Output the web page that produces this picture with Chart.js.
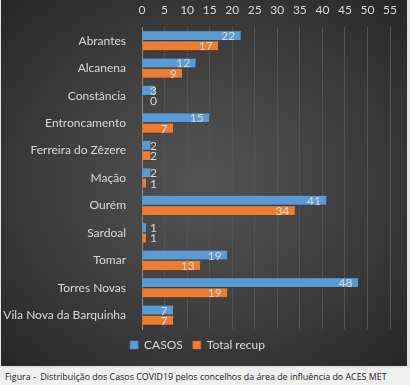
<!DOCTYPE html>
<html>
<head>
<meta charset="utf-8">
<script src="https://cdn.jsdelivr.net/npm/chart.js@4"></script>
<style>
  html, body { margin:0; padding:0; background:#e4e4e4; width:410px; height:385px; overflow:hidden; }
  #panel { position:absolute; left:1px; top:0; width:406px; height:366px;
    background: radial-gradient(ellipse at 50% 50%, #545454 0%, #3d3d3d 55%, #262626 100%); }
  #caption { position:absolute; left:0; top:368px; width:410px; height:17px; background:#f0f0f0;
    font: 8.9px "Open Sans", sans-serif; color:#222; line-height:17px; padding-left:5px; box-sizing:border-box; white-space:nowrap; }
</style>
</head>
<body>
<div id="panel"><canvas id="c" width="406" height="366"></canvas></div>
<div id="caption">Figura -&nbsp; Distribuição dos Casos COVID19 pelos concelhos da área de influência do ACES MET</div>
<script>
const concelhos = ["Abrantes","Alcanena","Constância","Entroncamento","Ferreira do Zêzere","Mação","Ourém","Sardoal","Tomar","Torres Novas","Vila Nova da Barquinha"];
const casos = [22,12,3,15,2,2,41,1,19,48,7];
const totalRecup = [17,9,0,7,2,1,34,1,13,19,7];
const xTicksMax = 55;

const FONT = "Lato, 'Open Sans', sans-serif";

// bar drop shadow, like the office chart style
const shadowPlugin = {
  id: "shadow",
  beforeDatasetsDraw(chart){
    const ctx = chart.ctx;
    ctx.save();
    ctx.shadowColor = "rgba(0,0,0,0.6)";
    ctx.shadowBlur = 3;
    ctx.shadowOffsetX = 1.5;
    ctx.shadowOffsetY = 1.5;
  },
  afterDatasetsDraw(chart){
    chart.ctx.restore();
  }
};

// value labels at inside end, pushed out when the bar is too short
const valueLabels = {
  id: "valueLabels",
  afterDatasetsDraw(chart){
    const ctx = chart.ctx;
    const base = chart.scales.x.getPixelForValue(0);
    ctx.save();
    ctx.font = "12px " + FONT;
    ctx.textBaseline = "middle";
    ctx.textAlign = "center";
    chart.data.datasets.forEach((ds, i) => {
      chart.getDatasetMeta(i).data.forEach((bar, j) => {
        const txt = String(ds.data[j]);
        const w = ctx.measureText(txt).width;
        const x = Math.max(base + 8 + w/2, bar.x - 6 - w/2);
        ctx.fillStyle = "#d9d9d9";
        ctx.fillText(txt, x, bar.y + 0.5);
      });
    });
    ctx.restore();
  }
};

new Chart(document.getElementById("c"), {
  type: "bar",
  data: {
    labels: concelhos,
    datasets: [
      { label: "CASOS", data: casos, backgroundColor: "#5b9bd5", borderColor: "#4a8ac4", borderWidth: 0.5,
        categoryPercentage: 0.75, barPercentage: 0.95 },
      { label: "Total recup", data: totalRecup, backgroundColor: "#ed7d31", borderColor: "#d56a22", borderWidth: 0.5,
        categoryPercentage: 0.75, barPercentage: 0.95 }
    ]
  },
  options: {
    indexAxis: "y",
    responsive: false,
    animation: false,
    layout: { padding: { left: 2, right: 15, top: 2, bottom: 5 } },
    plugins: {
      tooltip: { enabled: false },
      legend: {
        position: "bottom",
        labels: { color: "#d9d9d9", font: { size: 12, family: FONT }, boxWidth: 8, boxHeight: 8, padding: 10 }
      }
    },
    scales: {
      x: {
        position: "top",
        min: 0, max: xTicksMax,
        ticks: { stepSize: 5, color: "#d9d9d9", font: { size: 12, family: FONT }, padding: 10 },
        grid: { color: "#545454", drawTicks: false },
        border: { display: false },
        afterFit(s){ s.height = 25; }
      },
      y: {
        ticks: { color: "#d9d9d9", font: { size: 12, family: FONT }, padding: 8 },
        grid: { display: false },
        border: { color: "#8a8a8a" },
        afterFit(s){ s.width = 139; }
      }
    }
  },
  plugins: [shadowPlugin, valueLabels]
});
</script>
</body>
</html>
